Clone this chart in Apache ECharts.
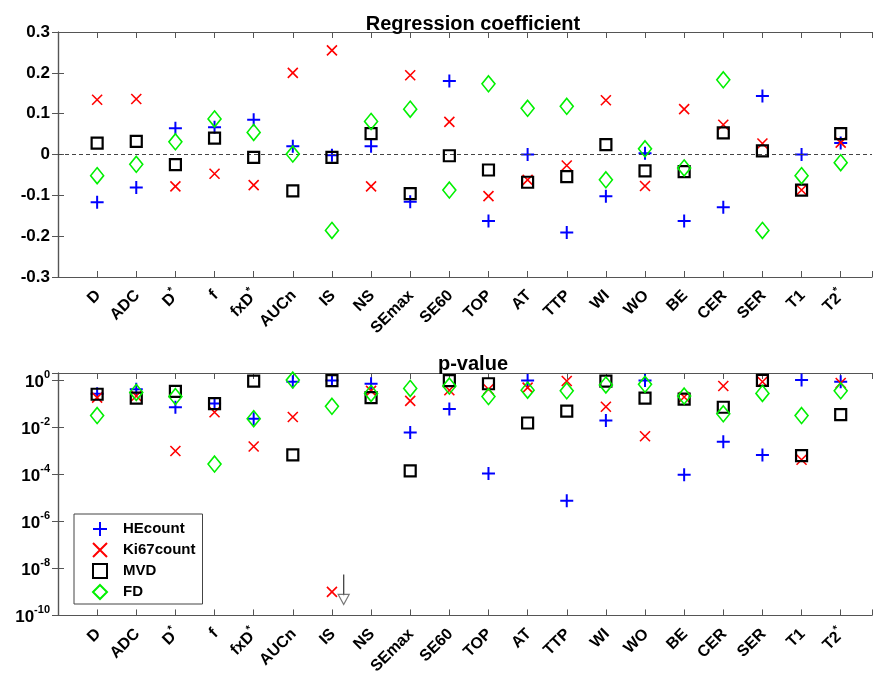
<!DOCTYPE html>
<html><head><meta charset="utf-8">
<script src="https://cdn.jsdelivr.net/npm/echarts@6/dist/echarts.min.js"></script>
<style>html,body{margin:0;padding:0;background:#fff}#c{width:875px;height:677px}</style>
</head><body><div id="c"></div>
<script>
const categories = ['D','ADC','D*','f','fxD*','AUCn','IS','NS','SEmax','SE60','TOP','AT','TTP','WI','WO','BE','CER','SER','T1','T2*'];
const seriesNames = ['HEcount','Ki67count','MVD','FD'];
const coefHE   = [-0.117,-0.081,0.064,0.067,0.085,0.020,-0.002,0.020,-0.116,0.180,-0.163,0.000,-0.191,-0.102,0.003,-0.163,-0.129,0.143,0.000,0.028];
const coefKi67 = [0.134,0.136,-0.078,-0.047,-0.075,0.200,0.255,-0.078,0.194,0.080,-0.102,-0.062,-0.027,0.133,-0.077,0.111,0.073,0.027,-0.087,0.029];
const coefMVD  = [0.028,0.032,-0.025,0.040,-0.007,-0.089,-0.007,0.051,-0.096,-0.003,-0.038,-0.068,-0.054,0.024,-0.040,-0.042,0.053,0.009,-0.087,0.051];
const coefFD   = [-0.052,-0.024,0.031,0.087,0.054,0.001,-0.186,0.081,0.111,-0.087,0.173,0.113,0.118,-0.062,0.014,-0.033,0.183,-0.186,-0.052,-0.020];
const pHE   = [0.26,0.41,0.07,0.10,0.023,0.85,0.95,0.70,5.9e-3,0.059,1.07e-4,0.97,7.4e-6,0.019,0.95,9.6e-5,2.4e-3,6.6e-4,1.0,0.85];
const pKi67 = [0.18,0.21,9.7e-4,0.043,1.5e-3,0.027,1e-9,0.35,0.13,0.37,0.41,0.48,0.91,0.074,4.1e-3,0.19,0.56,0.85,4.1e-4,0.75];
const pMVD  = [0.25,0.17,0.33,0.10,0.90,6.6e-4,0.95,0.18,1.4e-4,0.95,0.70,0.015,0.048,0.90,0.17,0.155,0.070,0.97,6.2e-4,0.034];
const pFD   = [0.031,0.30,0.20,2.7e-4,0.023,1.0,0.077,0.27,0.44,0.56,0.20,0.37,0.35,0.62,0.66,0.21,0.037,0.27,0.031,0.35];
const coefTicks = [-0.3,-0.2,-0.1,0,0.1,0.2,0.3];
const pThreshold = 0.05/80;
const arrowX = [7.3, 7.3];
const arrowY = [5.5e-9, 6.5e-10];
const arrowHeadY = [4.8e-10];

const FONT = '"Liberation Sans", Arial, sans-serif';
const AX = '#555';
const styles = [
  {symbol:'path://M5,0L5,10M0,5L10,5', size:13, color:'#0000ff', bw:2},
  {symbol:'path://M0,0L10,10M10,0L0,10', size:10, color:'#ff0000', bw:1.6},
  {symbol:'rect', size:11, color:'#000000', bw:2.2},
  {symbol:'diamond', size:[13,16], color:'#00f000', bw:1.6}
];
const coefData = [coefHE, coefKi67, coefMVD, coefFD];
const pData = [pHE, pKi67, pMVD, pFD];

function catLabel(v){
  if (Math.abs(v - Math.round(v)) > 1e-6) return '';
  const i = Math.round(v) - 1;
  if (i < 0 || i >= categories.length) return '';
  const c = categories[i];
  return c.indexOf('*') >= 0 ? '{b|' + c.replace('*','') + '}{s|*}' : '{b|' + c + '}';
}
const xLabel = {
  rotate: 45, margin: 15, formatter: catLabel, color:'#000',
  rich: {
    b: {fontFamily: FONT, fontWeight:'bold', fontSize: 16, color:'#000', lineHeight: 19, verticalAlign:'bottom'},
    s: {fontFamily: FONT, fontWeight:'bold', fontSize: 11, color:'#000', lineHeight: 10, verticalAlign:'top'}
  }
};
function xAxes(gi){
  return [
    {type:'value', gridIndex:gi, min:0, max:20.8, interval:1, position:'bottom',
     axisLine:{show:true, onZero:false, lineStyle:{color:AX, width:1.2}},
     axisTick:{show:true, inside:true, length:6, lineStyle:{color:AX}},
     splitLine:{show:false}, axisLabel: xLabel},
    {type:'value', gridIndex:gi, min:0, max:20.8, interval:1, position:'top',
     axisLine:{show:true, onZero:false, lineStyle:{color:AX, width:1.2}},
     axisTick:{show:true, inside:true, length:6, lineStyle:{color:AX}},
     splitLine:{show:false}, axisLabel:{show:false}}
  ];
}
const yLabelStyle = {fontFamily: FONT, fontWeight:'bold', fontSize: 17, color:'#000'};
const opt = {
  animation:false,
  backgroundColor:'#fff',
  title:[
    {text:'Regression coefficient', left:468, top:9, textAlign:'center',
     textStyle:{fontFamily:FONT, fontWeight:'bold', fontSize:20, color:'#000'}},
    {text:'p-value', left:468, top:349, textAlign:'center',
     textStyle:{fontFamily:FONT, fontWeight:'bold', fontSize:20, color:'#000'}}
  ],
  grid:[
    {left:58, right:3, top:32, height:245},
    {left:58, right:3, top:373, height:247}
  ],
  xAxis: xAxes(0).concat(xAxes(1)),
  yAxis:[
    {type:'value', gridIndex:0, min:-0.3, max:0.3, interval:0.1, position:'left',
     axisLine:{show:true, lineStyle:{color:AX, width:1.2}},
     axisTick:{show:true, inside:true, length:6, lineStyle:{color:AX}},
     splitLine:{show:false},
     axisLabel:Object.assign({margin:8, formatter:v=>{const r=Math.round(v*10)/10; return r===0?'0':r.toFixed(1);}}, yLabelStyle)},
    {type:'value', gridIndex:0, min:-0.3, max:0.3, interval:0.1, position:'right',
     axisLine:{show:true, lineStyle:{color:AX, width:1.2}},
     axisTick:{show:true, inside:true, length:6, lineStyle:{color:AX}},
     splitLine:{show:false}, axisLabel:{show:false}},
    {type:'log', logBase:100, gridIndex:1, min:1e-10, max:2, position:'left',
     axisLine:{show:true, lineStyle:{color:AX, width:1.2}},
     axisTick:{show:true, inside:true, length:6, lineStyle:{color:AX}},
     splitLine:{show:false}, minorTick:{show:false},
     axisLabel:{margin:8, formatter:v=>{const e=Math.log10(v); if(Math.abs(e-Math.round(e))>0.01) return ''; return '{b|10}{s|'+Math.round(e)+'}';},
       rich:{b:{fontFamily:FONT, fontWeight:'bold', fontSize:17, color:'#000', lineHeight:21, verticalAlign:'bottom'},
             s:{fontFamily:FONT, fontWeight:'bold', fontSize:11, color:'#000', lineHeight:11, verticalAlign:'top'}}}},
    {type:'log', logBase:100, gridIndex:1, min:1e-10, max:2, position:'right',
     axisLine:{show:true, lineStyle:{color:AX, width:1.2}},
     axisTick:{show:true, inside:true, length:6, lineStyle:{color:AX}},
     splitLine:{show:false}, axisLabel:{show:false}}
  ],
  legend:{
    orient:'vertical', left:74, top:514, data:seriesNames,
    backgroundColor:'#fff', borderColor:'#444', borderWidth:1,
    padding:[7,7,4,18], itemGap:5, itemWidth:14, itemHeight:14,
    textStyle:{fontFamily:FONT, fontWeight:'bold', fontSize:15, color:'#000', padding:[0,0,0,11]}
  },
  series:[]
};
styles.forEach((s,k)=>{
  const base = {type:'scatter', name:seriesNames[k], symbol:s.symbol, symbolSize:s.size,
    itemStyle:{color:'rgba(0,0,0,0)', borderColor:s.color, borderWidth:s.bw, opacity:1}, z:3+k};
  opt.series.push(Object.assign({}, base, {xAxisIndex:0, yAxisIndex:0,
    data: coefData[k].map((v,i)=>[i+1, v])}));
  opt.series.push(Object.assign({}, base, {xAxisIndex:2, yAxisIndex:2,
    data: pData[k].map((v,i)=>[i+1, v])}));
});
opt.series.push({type:'line', xAxisIndex:0, yAxisIndex:0, data:[], silent:true,
  markLine:{silent:true, symbol:['none','none'], label:{show:false},
    lineStyle:{color:'#444', type:[4,3], width:1.2}, data:[{yAxis:0}]}});
opt.series.push({type:'line', xAxisIndex:2, yAxisIndex:2, data:[], silent:true,
  markLine:{silent:true, symbol:['none','none'], label:{show:false},
    lineStyle:{color:'#444', type:[4,3], width:1.2}, data:[{yAxis:pThreshold}]}});
opt.series.push({type:'line', xAxisIndex:2, yAxisIndex:2, silent:true, symbol:'none',
  lineStyle:{color:'#444', width:1.3}, data: arrowX.map((x,i)=>[x, arrowY[i]]), z:2});
opt.series.push({type:'scatter', xAxisIndex:2, yAxisIndex:2, silent:true, symbol:'triangle', symbolRotate:180,
  symbolSize:[11,10], itemStyle:{color:'#fff', borderColor:'#555', borderWidth:1.2},
  data: arrowHeadY.map(y=>[arrowX[0], y]), z:2});
const chart = echarts.init(document.getElementById('c'), null, {renderer:'canvas'});
chart.setOption(opt);
</script></body></html>
